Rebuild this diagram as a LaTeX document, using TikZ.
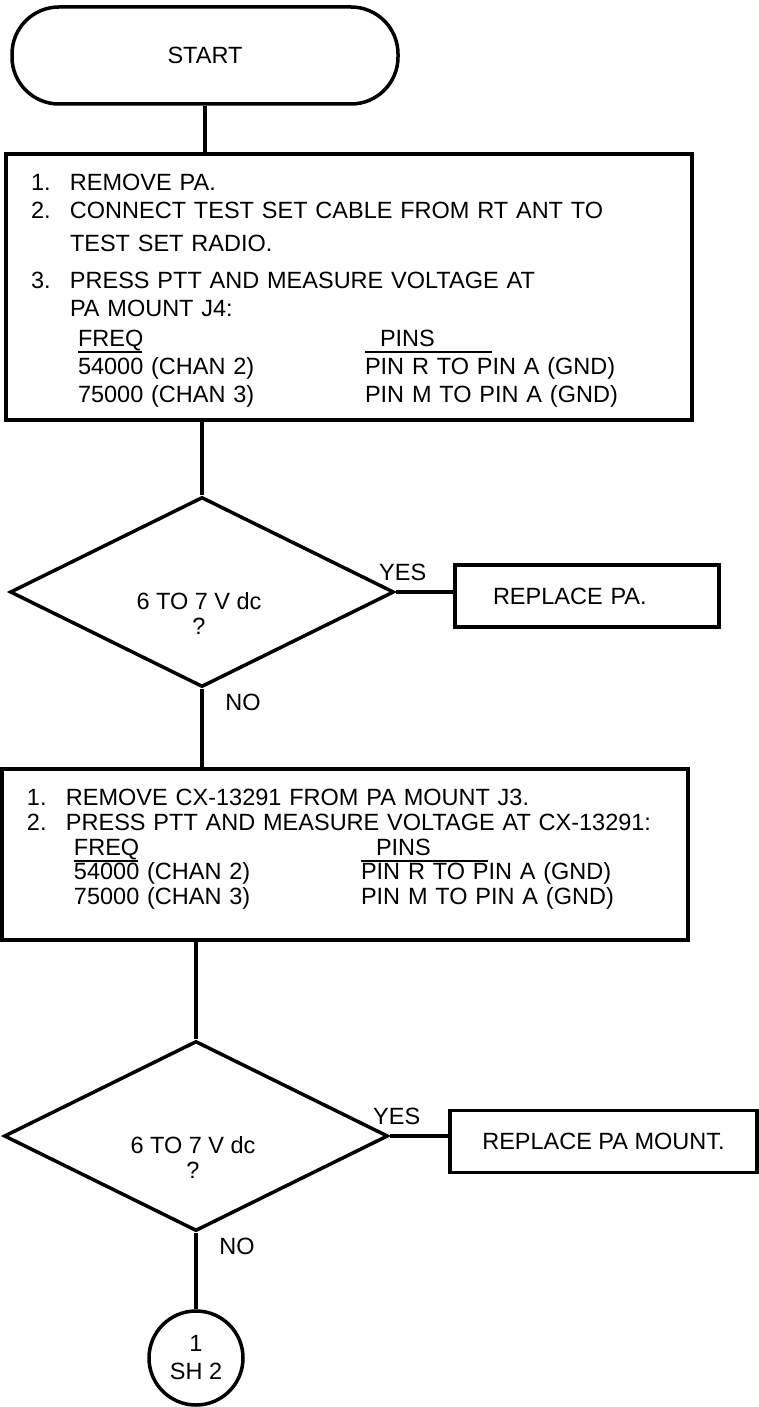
\documentclass[tikz,border=0pt]{standalone}
\usepackage{fontspec}
\setmainfont{Liberation Sans}
\usetikzlibrary{shapes.geometric,positioning}

% step number, frequency/pin table row, underline rule
\newcommand{\stepnum}[1]{\makebox[39pt][l]{#1}}
\newcommand{\freqpins}[2]{\hspace*{47pt}\makebox[287pt][l]{#1}#2}
\newcommand{\ulrule}[1]{\rlap{\rule[-7pt]{#1}{2pt}}}

\tikzset{
  flow/.style={line width=3.5pt},
  termbox/.style={draw, flow, rounded corners=47pt, minimum width=386pt, minimum height=97pt},
  stepbox/.style={draw, flow, align=left, text width=636pt, inner xsep=25pt, inner ysep=0pt},
  decide/.style={draw, flow, diamond, minimum width=384pt, minimum height=190pt, inner sep=0pt},
  actbox/.style={draw, flow, minimum height=62pt},
  tag/.style={inner sep=0pt, align=center},
  offpage/.style={draw, flow, circle, minimum size=94pt, inner sep=0pt, align=center}
}

\begin{document}
\begin{tikzpicture}[x=1pt, y=-1pt, font=\fontsize{23.5pt}{28pt}\selectfont]
\useasboundingbox (0,0) rectangle (759,1407);

% Start
\node[termbox] (start) at (205,55.5) {START};

% Step box 1
\node[stepbox, minimum height=266pt] (box1) at (349,287) {%
\stepnum{1.}\rule{0pt}{23pt}REMOVE PA.\\
\stepnum{2.}CONNECT TEST SET CABLE FROM RT ANT TO\\[5pt]
\stepnum{}TEST SET RADIO.\\[9pt]
\stepnum{3.}PRESS PTT AND MEASURE VOLTAGE AT\\
\stepnum{}PA MOUNT J4:\\[2pt]
\freqpins{\ulrule{64pt}FREQ}{\ulrule{127pt}\hspace*{15pt}PINS}\\
\freqpins{54000 (CHAN 2)}{PIN R TO PIN A (GND)}\\
\freqpins{75000 (CHAN 3)}{PIN M TO PIN A (GND)}};

% Decision 1
\node[decide] (d1) at (202,592) {};
\node[tag, font=\fontsize{23.5pt}{25pt}\selectfont] (q1) at (199,613) {6 TO 7 V dc\\?};
\node[actbox, text width=188pt, inner xsep=38pt, align=left] (repl1) at (587,596) {REPLACE PA.};
\node[tag] (yes1) at ([shift={(7,-20)}]d1.east) {YES};
\node[tag] (no1) at ([shift={(41,14)}]d1.south) {NO};

% Step box 2
\node[stepbox, minimum height=171pt, font=\fontsize{23.5pt}{24.5pt}\selectfont] (box2) at (345,854.5) {%
\stepnum{1.}REMOVE CX-13291 FROM PA MOUNT J3.\\[1pt]
\stepnum{2.}PRESS PTT AND MEASURE VOLTAGE AT CX-13291:\\
\freqpins{\ulrule{64pt}FREQ}{\ulrule{127pt}\hspace*{15pt}PINS}\\
\freqpins{54000 (CHAN 2)}{PIN R TO PIN A (GND)}\\
\freqpins{75000 (CHAN 3)}{PIN M TO PIN A (GND)}\rule[-16pt]{0pt}{1pt}};

% Decision 2
\node[decide] (d2) at (196,1136) {};
\node[tag, font=\fontsize{23.5pt}{25pt}\selectfont] (q2) at (193,1157) {6 TO 7 V dc\\?};
\node[actbox, minimum width=307pt] (repl2) at (603.5,1141.5) {REPLACE PA MOUNT.};
\node[tag] (yes2) at ([shift={(7,-20)}]d2.east) {YES};
\node[tag] (no2) at ([shift={(41,14)}]d2.south) {NO};

% Off-page connector
\node[offpage] (sh2) at (196,1358) {1\\SH 2};

% Connectors
\draw[flow] (start.south) -- (start.south |- box1.north);
\draw[flow] (d1.north |- box1.south) -- (d1.north);
\draw[flow] (d1.east) -- (d1.east -| repl1.west);
\draw[flow] (d1.south) -- (d1.south |- box2.north);
\draw[flow] (d2.north |- box2.south) -- (d2.north);
\draw[flow] (d2.east) -- (d2.east -| repl2.west);
\draw[flow] (d2.south) -- (sh2.north);

\end{tikzpicture}
\end{document}
